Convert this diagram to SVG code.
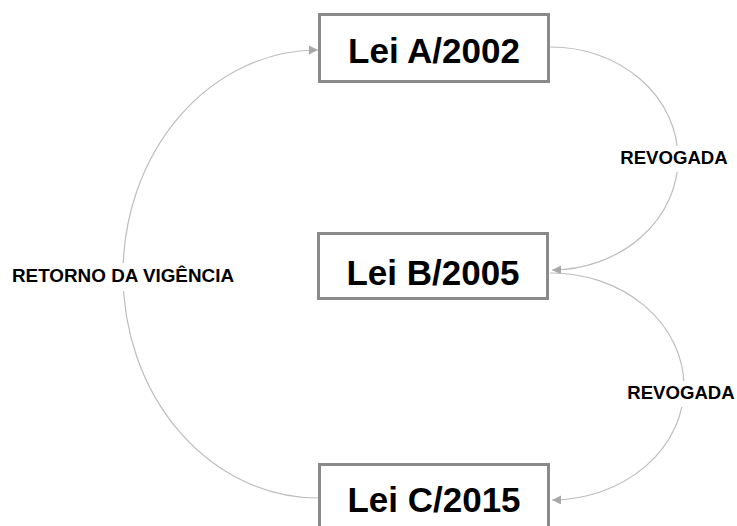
<svg xmlns="http://www.w3.org/2000/svg" width="737" height="526" viewBox="0 0 737 526">
<defs>
<style>
.box{fill:#fff;stroke:#8a8a8a;stroke-width:3}
.t{font-family:"Liberation Sans",Arial,sans-serif;font-weight:bold;font-size:35px;fill:#000;text-anchor:middle}
.l{font-family:"Liberation Sans",Arial,sans-serif;font-weight:bold;font-size:18.6px;fill:#000}
.c{fill:none;stroke:#bdbdbd;stroke-width:1.2}
.bg{fill:#fff}
</style>
<marker id="ah" viewBox="0 0 10 10" refX="10" refY="5" markerWidth="9" markerHeight="9" markerUnits="userSpaceOnUse" orient="auto">
<path d="M0,0 L10,5 L0,10 z" fill="#a8a8a8"/>
</marker>
</defs>
<rect width="737" height="526" fill="#fff"/>
<g id="connectors">
<path class="c" d="M550,47 A127,111.5 0 0 1 552,270" marker-end="url(#ah)"/>
<path class="c" d="M550,273 A133,113.5 0 0 1 552,500" marker-end="url(#ah)"/>
<path class="c" d="M318,498 A195,224 0 0 1 318,50" marker-end="url(#ah)"/>
<rect class="bg" x="619" y="146" width="110" height="26"/>
<text class="l" x="674" y="164" text-anchor="middle">REVOGADA</text>
<rect class="bg" x="626" y="381" width="110" height="26"/>
<text class="l" x="681" y="399" text-anchor="middle">REVOGADA</text>
<rect class="bg" x="10" y="263" width="228" height="28"/>
<text class="l" x="12" y="282" textLength="222" lengthAdjust="spacingAndGlyphs">RETORNO DA VIGÊNCIA</text>
</g>
<g id="leiA">
<rect class="box" x="319.5" y="14.5" width="229" height="67"/>
<text class="t" x="434" y="63">Lei A/2002</text>
</g>
<g id="leiB">
<rect class="box" x="318.5" y="233.5" width="229" height="65"/>
<text class="t" x="433" y="285">Lei B/2005</text>
</g>
<g id="leiC">
<rect class="box" x="319.5" y="464.5" width="229" height="75"/>
<text class="t" x="434" y="512">Lei C/2015</text>
</g>
</svg>
